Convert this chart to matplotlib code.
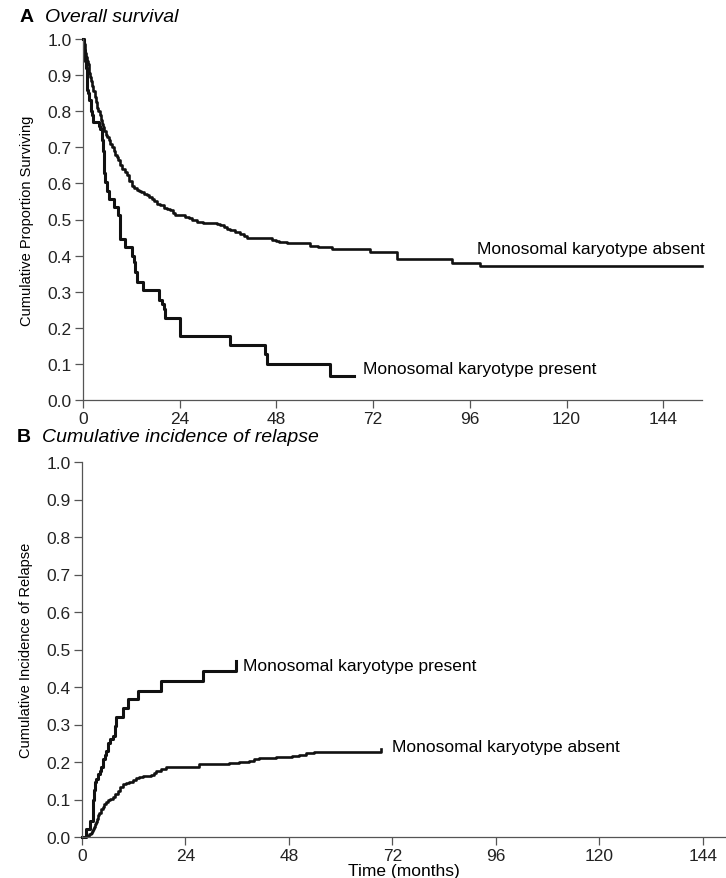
import matplotlib
matplotlib.use("Agg")
import matplotlib.pyplot as plt
import numpy as np

plt.rcParams["font.family"] = ["Liberation Sans", "DejaVu Sans"]

# ---- A: overall survival (months, proportion) ----
os_absent_t = [0, 0.2, 0.4, 0.6, 0.8, 1.0, 1.2, 1.4, 1.6, 1.8, 2.0, 2.3, 2.6, 2.9, 3.2, 3.5,
               3.8, 4.1, 4.4, 4.7, 5.0, 5.3, 5.6, 6.0, 6.4, 6.8, 7.2, 7.6, 8.0, 8.4, 8.8, 9.3,
               9.8, 10.3, 10.9, 11.5, 12.1, 12.7, 13.3, 13.8, 14.5, 15.2, 15.9, 16.5, 17.1,
               17.7, 18.4, 19.2, 20.0, 20.8, 21.7, 22.3, 22.9, 25.4, 26.2, 27.0, 28.4, 29.9,
               33.2, 34.0, 34.9, 35.7, 36.5, 37.8, 39.0, 39.9, 40.7, 46.8, 47.8, 48.6, 50.5,
               56.3, 58.4, 61.7, 71.2, 77.8, 91.5, 98.5, 153.6]
os_absent_s = [1.0, 0.985, 0.97, 0.96, 0.95, 0.94, 0.93, 0.92, 0.905, 0.895, 0.885, 0.87,
               0.855, 0.84, 0.825, 0.81, 0.80, 0.79, 0.775, 0.765, 0.755, 0.745, 0.735, 0.728,
               0.72, 0.71, 0.70, 0.69, 0.68, 0.674, 0.666, 0.652, 0.64, 0.631, 0.622, 0.608,
               0.594, 0.586, 0.582, 0.578, 0.575, 0.571, 0.567, 0.562, 0.557, 0.55, 0.544,
               0.539, 0.533, 0.529, 0.525, 0.519, 0.513, 0.508, 0.503, 0.498, 0.494, 0.491,
               0.488, 0.484, 0.479, 0.474, 0.47, 0.465, 0.461, 0.455, 0.449, 0.444, 0.44,
               0.437, 0.435, 0.426, 0.423, 0.417, 0.409, 0.39, 0.379, 0.37, 0.37]

os_present_t = [0, 0.3, 0.6, 0.8, 1.0, 1.3, 1.6, 2.0, 2.3, 2.6, 3.9, 4.3, 4.6, 4.9, 5.1, 5.3,
                5.5, 5.9, 6.4, 7.6, 8.8, 9.3, 10.5, 12.1, 12.6, 13.0, 13.4, 15.0, 18.8, 19.5,
                20.0, 20.4, 24.1, 36.5, 45.2, 45.6, 61.3, 67.2]
os_present_s = [1.0, 0.97, 0.94, 0.92, 0.86, 0.85, 0.83, 0.80, 0.79, 0.77, 0.76, 0.75, 0.72,
                0.69, 0.66, 0.63, 0.604, 0.58, 0.558, 0.535, 0.512, 0.447, 0.424, 0.400, 0.382,
                0.355, 0.327, 0.304, 0.276, 0.265, 0.253, 0.228, 0.178, 0.152, 0.128, 0.101,
                0.067, 0.067]

# ---- B: cumulative incidence of relapse ----
cir_present_t = [0, 1.0, 1.8, 2.5, 2.7, 2.9, 3.3, 3.7, 4.1, 4.5, 4.9, 5.3, 5.6, 6.0, 6.6, 7.2,
                 7.6, 7.8, 9.5, 10.6, 13.0, 18.4, 28.0, 35.7]
cir_present_v = [0, 0.022, 0.044, 0.10, 0.125, 0.146, 0.155, 0.168, 0.177, 0.186, 0.208,
                 0.22, 0.23, 0.252, 0.262, 0.27, 0.296, 0.321, 0.345, 0.367, 0.389, 0.416,
                 0.442, 0.469]

cir_absent_t = [0, 1.0, 1.4, 1.7, 2.0, 2.3, 2.5, 2.8, 3.0, 3.3, 3.5, 3.7, 4.0, 4.3, 4.5,
                4.8, 5.2, 5.6, 6.0, 6.6, 7.2, 7.7, 8.3, 8.9, 9.5, 10.2, 11.0, 11.8, 12.6,
                13.3, 14.1, 16.0, 16.6, 17.2, 18.3, 19.5, 27.2, 34.2, 36.5, 38.8, 40.0,
                41.1, 45.0, 48.8, 50.3, 51.9, 53.8, 55.8, 69.3]
cir_absent_v = [0, 0.002, 0.004, 0.008, 0.012, 0.017, 0.022, 0.028, 0.034, 0.04, 0.049,
                0.058, 0.063, 0.069, 0.075, 0.081, 0.087, 0.093, 0.098, 0.102, 0.106, 0.115,
                0.124, 0.133, 0.142, 0.145, 0.148, 0.153, 0.157, 0.16, 0.162, 0.165, 0.171,
                0.177, 0.182, 0.186, 0.195, 0.197, 0.2, 0.204, 0.208, 0.211, 0.213, 0.215,
                0.219, 0.223, 0.226, 0.228, 0.236]

x_ticks = np.arange(0, 145, 24)
y_ticks = np.linspace(0, 1, 11)
y_tick_labels = ["%.1f" % v for v in y_ticks]

fig = plt.figure(figsize=(7.26, 8.79), dpi=100)
axA = fig.add_axes([83 / 726, 1 - 401 / 879, 619 / 726, 361 / 879])
axB = fig.add_axes([82 / 726, 1 - 838 / 879, 644 / 726, 375 / 879])


def style(ax, xmax):
    ax.set_xlim(0, xmax)
    ax.set_ylim(0, 1.0)
    ax.set_xticks(x_ticks)
    ax.set_yticks(y_ticks)
    ax.set_yticklabels(y_tick_labels)
    for s in ["top", "right"]:
        ax.spines[s].set_visible(False)
    for s in ["left", "bottom"]:
        ax.spines[s].set_color("#555555")
        ax.spines[s].set_linewidth(0.9)
    ax.tick_params(direction="out", length=6, width=0.9, color="#555555",
                   labelsize=12.5, pad=2, labelcolor="#222222")


style(axA, 153.6)
axA.step(os_absent_t, os_absent_s, where="post", color="#111111", lw=1.9, clip_on=False)
axA.step(os_present_t, os_present_s, where="post", color="#111111", lw=2.2, clip_on=False)
axA.text(97.8, 0.421, "Monosomal karyotype absent", fontsize=12.5, va="center")
axA.text(69.5, 0.086, "Monosomal karyotype present", fontsize=12.5, va="center")
axA.set_ylabel("Cumulative Proportion Surviving", fontsize=10.5, labelpad=10)

style(axB, 149.4)
axB.step(cir_present_t, cir_present_v, where="post", color="#111111", lw=2.2, clip_on=False)
axB.step(cir_absent_t, cir_absent_v, where="post", color="#111111", lw=1.9, clip_on=False)
axB.text(37.4, 0.456, "Monosomal karyotype present", fontsize=12.5, va="center")
axB.text(71.9, 0.24, "Monosomal karyotype absent", fontsize=12.5, va="center")
axB.set_ylabel("Cumulative Incidence of Relapse", fontsize=10.5, labelpad=10)
axB.set_xlabel("Time (months)", fontsize=12.5, labelpad=0)

fig.text(20 / 726, 1 - 17 / 879, "A", fontsize=14, fontweight="bold", va="center")
fig.text(45 / 726, 1 - 17 / 879, "Overall survival", fontsize=14, style="italic", va="center")
fig.text(17 / 726, 1 - 438 / 879, "B", fontsize=14, fontweight="bold", va="center")
fig.text(42 / 726, 1 - 438 / 879, "Cumulative incidence of relapse", fontsize=14,
         style="italic", va="center")

fig.savefig("out.png", dpi=100)
